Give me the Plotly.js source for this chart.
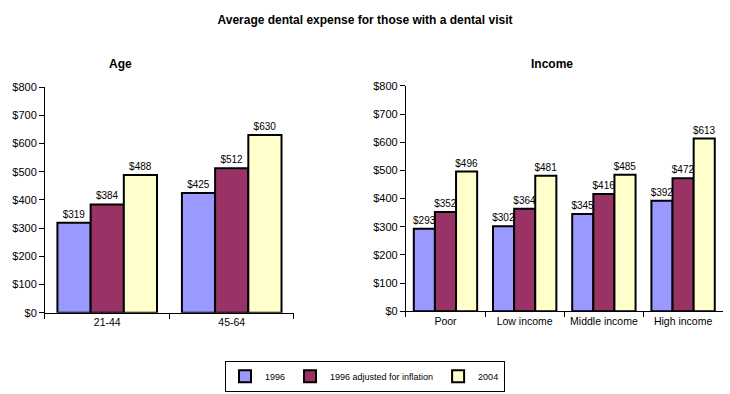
<!DOCTYPE html>
<html>
<head>
<meta charset="utf-8">
<script src="https://cdn.plot.ly/plotly-3.0.1.min.js"></script>
<style>
  html, body { margin: 0; padding: 0; background: #fff; }
  #chart { width: 730px; height: 394px; }
</style>
</head>
<body>
<div id="chart"></div>
<script>
"use strict";

// age groups
const ageCats = ["21-44", "45-64"];
const age1996 = [319, 425];
const age1996Adj = [384, 512];
const age2004 = [488, 630];

// income groups
const incomeCats = ["Poor", "Low income", "Middle income", "High income"];
const inc1996 = [293, 302, 345, 392];
const inc1996Adj = [352, 364, 416, 472];
const inc2004 = [496, 481, 485, 613];

const seriesNames = ["1996", "1996 adjusted for inflation", "2004"];
const seriesColors = ["#9999FF", "#993366", "#FFFFCC"];

const FAM = "Liberation Sans, Arial, sans-serif";

function barTrace(cats, vals, idx, xa, ya, showLegend) {
    return {
        type: "bar",
        x: cats,
        y: vals,
        xaxis: xa,
        yaxis: ya,
        name: seriesNames[idx],
        legendgroup: "s" + idx,
        showlegend: showLegend,
        marker: {color: seriesColors[idx], line: {color: "#000", width: 2}},
        text: vals.map(v => "$" + v),
        textposition: "outside",
        constraintext: "none",
        cliponaxis: false,
        textfont: {family: FAM, size: 10, color: "#000"},
        hoverinfo: "skip"
    };
}

function main() {
    const traces = [
        barTrace(ageCats, age1996, 0, "x", "y", true),
        barTrace(ageCats, age1996Adj, 1, "x", "y", true),
        barTrace(ageCats, age2004, 2, "x", "y", true),
        barTrace(incomeCats, inc1996, 0, "x2", "y2", false),
        barTrace(incomeCats, inc1996Adj, 1, "x2", "y2", false),
        barTrace(incomeCats, inc2004, 2, "x2", "y2", false)
    ];

    const font = {family: FAM, size: 11, color: "#000"};
    const yAxis = {
        range: [0, 800], dtick: 100, tickprefix: "$",
        showgrid: false, zeroline: false,
        showline: true, linecolor: "#000", linewidth: 1,
        ticks: "outside", ticklen: 5, tickcolor: "#000",
        tickfont: font, fixedrange: true
    };
    const xAxis = {
        showgrid: false, showline: true, linecolor: "#000", linewidth: 1,
        ticks: "outside", ticklen: 5, tickcolor: "#000", tickson: "boundaries",
        tickangle: 0, tickfont: {family: FAM, size: 10.5, color: "#000"}, fixedrange: true
    };

    const layout = {
        width: 730, height: 394,
        margin: {l: 0, r: 0, t: 0, b: 0},
        paper_bgcolor: "#fff", plot_bgcolor: "#fff",
        font: font,
        barmode: "group",
        bargap: 0.2,
        bargroupgap: 0,
        title: {
            text: "<b>Average dental expense for those with a dental visit</b>",
            font: {family: FAM, size: 12, color: "#000"},
            x: 0.5, xanchor: "center", y: 0.95, yanchor: "middle"
        },
        xaxis: Object.assign({}, xAxis, {domain: [0.0616, 0.4027], anchor: "y"}),
        yaxis: Object.assign({}, yAxis, {domain: [0.206, 0.779], anchor: "x"}),
        xaxis2: Object.assign({}, xAxis, {domain: [0.556, 0.99], anchor: "y2"}),
        yaxis2: Object.assign({}, yAxis, {domain: [0.21, 0.782], anchor: "x2"}),
        legend: {
            orientation: "h", x: 0.5, xanchor: "center", y: 0.045, yanchor: "middle",
            bordercolor: "#000", borderwidth: 1,
            font: {family: FAM, size: 9, color: "#000"},
            itemwidth: 30, tracegroupgap: 0
        },
        annotations: [
            {text: "<b>Age</b>", xref: "paper", yref: "paper", x: 0.147, y: 0.86,
             showarrow: false, font: {family: FAM, size: 12, color: "#000"}},
            {text: "<b>Income</b>", xref: "paper", yref: "paper", x: 0.788, y: 0.86,
             showarrow: false, font: {family: FAM, size: 12, color: "#000"}}
        ]
    };

    Plotly.newPlot("chart", traces, layout, {displayModeBar: false, staticPlot: true});
}

document.addEventListener("DOMContentLoaded", () => main());
</script>
</body>
</html>
